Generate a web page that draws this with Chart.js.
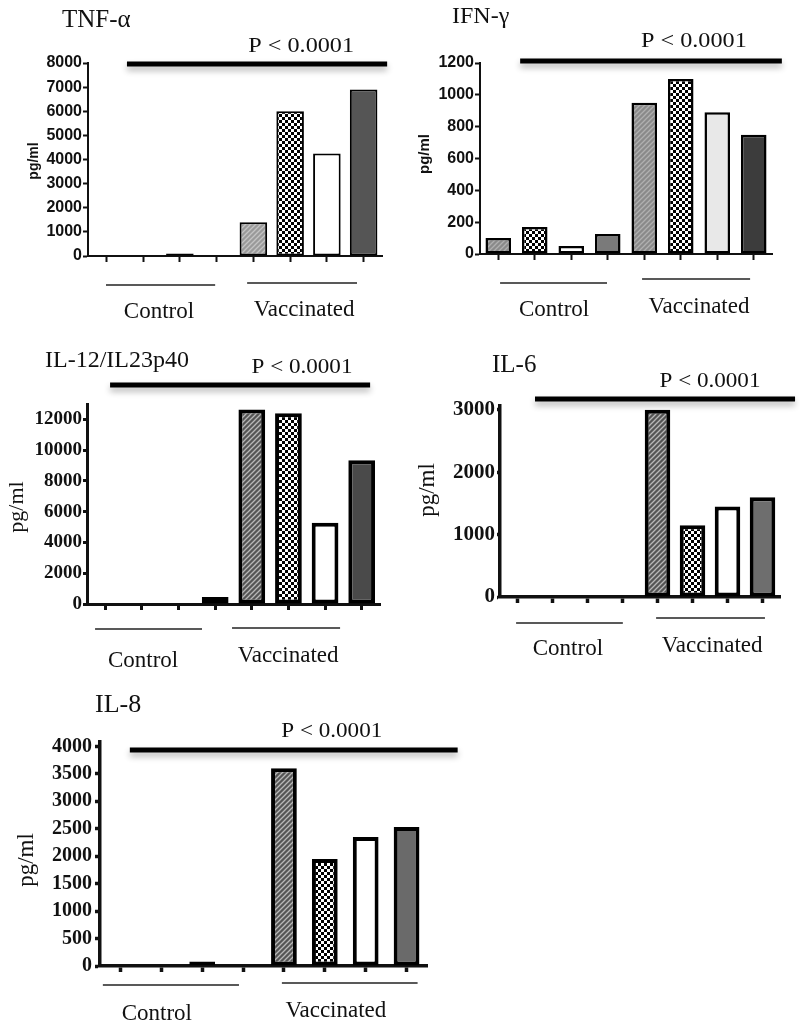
<!DOCTYPE html>
<html>
<head>
<meta charset="utf-8">
<script src="https://cdn.jsdelivr.net/npm/chart.js@4.4.1/dist/chart.umd.min.js"></script>
<style>
  body { margin: 0; background: #fff; }
  #page { position: relative; width: 800px; height: 1023px; overflow: hidden; background: #fff; }
  #page canvas { position: absolute; }
</style>
</head>
<body>
<div id="page">
  <canvas id="tnf" width="400" height="330" style="left:0px;top:0px"></canvas>
  <canvas id="ifn" width="400" height="330" style="left:400px;top:0px"></canvas>
  <canvas id="il12" width="400" height="350" style="left:0px;top:330px"></canvas>
  <canvas id="il6" width="400" height="350" style="left:400px;top:330px"></canvas>
  <canvas id="il8" width="480" height="343" style="left:0px;top:680px"></canvas>
</div>
<script>
// DATOS
const muestras = ["C1", "C2", "C3", "C4", "V1", "V2", "V3", "V4"];
const grupos = ["Control", "Vaccinated"];
const textoP = "P < 0.0001";
const unidad = "pg/ml";

const tnfValores = [0, 0, 100, 0, 1400, 6000, 4250, 6900];
const tnfTicks = [0, 1000, 2000, 3000, 4000, 5000, 6000, 7000, 8000];

const ifnValores = [100, 170, 50, 125, 950, 1100, 890, 750];
const ifnTicks = [0, 200, 400, 600, 800, 1000, 1200];

const il12Valores = [0, 0, 0, 450, 12650, 12400, 5280, 9350];
const il12Ticks = [0, 2000, 4000, 6000, 8000, 10000, 12000];

const il6Valores = [0, 0, 0, 0, 3000, 1150, 1450, 1600];
const il6Ticks = [0, 1000, 2000, 3000];

const il8Valores = [0, 0, 80, 10, 3600, 1950, 2350, 2530];
const il8Ticks = [0, 500, 1000, 1500, 2000, 2500, 3000, 3500, 4000];

const SERIF = "'Liberation Serif', 'Times New Roman', serif";
const SANS = "'Liberation Sans', Arial, sans-serif";

//PATRONES DE RELLENO
function rayado(fondo, linea) {
  const c = document.createElement("canvas");
  c.width = 5; c.height = 5;
  const g = c.getContext("2d");
  g.fillStyle = fondo;
  g.fillRect(0, 0, 5, 5);
  g.strokeStyle = linea;
  g.lineWidth = 1.3;
  g.beginPath();
  g.moveTo(-1, 6); g.lineTo(6, -1);
  g.moveTo(-1, 1); g.lineTo(1, -1);
  g.moveTo(4, 6); g.lineTo(6, 4);
  g.stroke();
  return g.createPattern(c, "repeat");
}

function cuadros() {
  const c = document.createElement("canvas");
  c.width = 6; c.height = 6;
  const g = c.getContext("2d");
  g.fillStyle = "#000";
  g.fillRect(0, 0, 6, 6);
  g.fillStyle = "#fff";
  g.fillRect(0, 0, 3, 3);
  g.fillRect(3, 3, 3, 3);
  return g.createPattern(c, "repeat");
}

//DIBUJA TITULO, LINEA DE SIGNIFICANCIA, GRUPOS Y UNIDAD
const decor = {
  id: "decor",
  afterDraw(chart, args, o) {
    const ctx = chart.ctx;
    const x = chart.scales.x;
    const area = chart.chartArea;
    ctx.save();
    ctx.fillStyle = "#111";

    ctx.font = o.fuenteTitulo;
    ctx.textAlign = "left";
    ctx.textBaseline = "alphabetic";
    ctx.fillText(o.titulo, o.titulo_x, o.titulo_y);

    ctx.save();
    ctx.translate(o.unidad_x, o.unidad_y);
    ctx.rotate(-Math.PI / 2);
    ctx.font = o.fuenteUnidad;
    ctx.textAlign = "center";
    ctx.textBaseline = "middle";
    ctx.fillText(unidad, 0, 0);
    ctx.restore();

    ctx.save();
    ctx.shadowColor = "rgba(0,0,0,0.3)";
    ctx.shadowBlur = 6;
    ctx.shadowOffsetY = 4;
    ctx.strokeStyle = "#000";
    ctx.lineWidth = 5;
    ctx.beginPath();
    ctx.moveTo(x.getPixelForValue(o.sig[0]), area.top + o.sig[2]);
    ctx.lineTo(x.getPixelForValue(o.sig[1]), area.top + o.sig[2]);
    ctx.stroke();
    ctx.restore();

    // texto P algo mas ancho, como en la figura
    ctx.save();
    ctx.font = o.fuenteP;
    ctx.textAlign = "center";
    ctx.translate(x.getPixelForValue(o.p[0]), area.top + o.p[1]);
    ctx.scale(1.1, 1);
    ctx.fillText(textoP, 0, 0);
    ctx.restore();

    ctx.strokeStyle = "#222";
    ctx.lineWidth = 1.5;
    ctx.font = o.fuenteGrupo;
    ctx.textAlign = "center";
    o.llaves.forEach((ll, i) => {
      ctx.beginPath();
      ctx.moveTo(x.getPixelForValue(ll[0]), area.bottom + ll[2]);
      ctx.lineTo(x.getPixelForValue(ll[1]), area.bottom + ll[2]);
      ctx.stroke();
      ctx.fillText(grupos[i], x.getPixelForValue(ll[3]), area.bottom + ll[4]);
    });
    ctx.restore();
  },
};

function panel(id, valores, ticks, cfg) {
  const lienzo = document.getElementById(id);
  const w = lienzo.width, h = lienzo.height;
  return new Chart(lienzo, {
    type: "bar",
    data: {
      labels: muestras,
      datasets: [{
        data: valores,
        backgroundColor: cfg.colores,
        borderColor: "#000",
        borderWidth: cfg.borde,
        borderSkipped: false,
        barPercentage: cfg.ancho,
        categoryPercentage: 1,
      }],
    },
    options: {
      responsive: false,
      animation: false,
      events: [],
      layout: {
        padding: { left: 0, top: cfg.area[1], right: w - cfg.area[2], bottom: 0 },
      },
      scales: {
        x: {
          offset: true,
          grid: {
            offset: false,
            drawOnChartArea: false,
            tickLength: 6,
            tickWidth: cfg.eje,
            tickColor: "#111",
          },
          border: { color: "#111", width: cfg.eje },
          ticks: { display: false },
          afterFit: (s) => { s.height = h - cfg.area[3]; },
        },
        y: {
          min: 0,
          max: cfg.max,
          grid: {
            drawOnChartArea: false,
            tickLength: cfg.marca,
            tickWidth: cfg.eje,
            tickColor: "#111",
          },
          border: { color: "#111", width: cfg.eje },
          ticks: {
            color: "#111",
            font: cfg.fuenteTicks,
            padding: cfg.pad,
            callback: (v) => String(v),
          },
          afterBuildTicks: (s) => { s.ticks = ticks.map((v) => ({ value: v })); },
          afterFit: (s) => { s.width = cfg.area[0]; },
        },
      },
      plugins: {
        legend: { display: false },
        tooltip: { enabled: false },
        decor: cfg.decor,
      },
    },
    plugins: [decor],
  });
}

const rayaClara = rayado("#9a9a9a", "#c4c4c4");
const rayaMedia = rayado("#8a8a8a", "#b0b0b0");
const rayaOscura = rayado("#555", "#b8b8b8");
const ajedrez = cuadros();

panel("tnf", tnfValores, tnfTicks, {
  area: [88, 63, 382, 256],
  max: 8000,
  colores: ["#333", "#333", "#333", "#333", rayaClara, ajedrez, "#fff", "#555"],
  borde: 2, eje: 2, ancho: 0.75, marca: 5, pad: 1,
  fuenteTicks: { family: SANS, size: 16, weight: "bold" },
  decor: {
    titulo: "TNF-\u03b1", titulo_x: 62, titulo_y: 27,
    fuenteTitulo: "25px " + SERIF,
    unidad_x: 34, unidad_y: 161, fuenteUnidad: "bold 14px " + SANS,
    sig: [0.56, 7.64, 1],
    p: [5.3, -11], fuenteP: "22px " + SERIF,
    llaves: [[-0.01, 2.96, 29, 1.43, 62], [3.83, 6.82, 27, 5.38, 60]],
    fuenteGrupo: "23px " + SERIF,
  },
});

panel("ifn", ifnValores, ifnTicks, {
  area: [80, 63, 372, 254],
  max: 1200,
  colores: [rayaMedia, ajedrez, "#fff", "#7a7a7a", rayaMedia, ajedrez, "#e8e8e8", "#3c3c3c"],
  borde: 2.5, eje: 2, ancho: 0.7, marca: 5, pad: 1,
  fuenteTicks: { family: SANS, size: 16, weight: "bold" },
  decor: {
    titulo: "IFN-\u03b3", titulo_x: 52, titulo_y: 23,
    fuenteTitulo: "24px " + SERIF,
    unidad_x: 25, unidad_y: 154, fuenteUnidad: "bold 15px " + SANS,
    sig: [0.6, 7.77, -2],
    p: [5.36, -16], fuenteP: "22px " + SERIF,
    llaves: [[0.05, 2.98, 29, 1.53, 62], [3.94, 6.9, 25, 5.5, 59]],
    fuenteGrupo: "23px " + SERIF,
  },
});

panel("il12", il12Valores, il12Ticks, {
  area: [87, 74, 380, 274],
  max: 13000,
  colores: ["#555", "#555", "#555", "#555", rayaOscura, ajedrez, "#fff", "#4a4a4a"],
  borde: 4, eje: 3, ancho: 0.73, marca: 4, pad: 1,
  fuenteTicks: { family: SERIF, size: 19, weight: "bold" },
  decor: {
    titulo: "IL-12/IL23p40", titulo_x: 45, titulo_y: 37,
    fuenteTitulo: "24px " + SERIF,
    unidad_x: 17, unidad_y: 177, fuenteUnidad: "22px " + SERIF,
    sig: [0.13, 7.23, -19],
    p: [5.37, -31], fuenteP: "21px " + SERIF,
    llaves: [[-0.28, 2.64, 25, 1.03, 63], [3.46, 6.41, 24, 4.99, 58]],
    fuenteGrupo: "23px " + SERIF,
  },
});

panel("il6", il6Valores, il6Ticks, {
  area: [100, 76, 380, 267],
  max: 3060,
  colores: ["#555", "#555", "#555", "#555", rayaOscura, ajedrez, "#fff", "#6e6e6e"],
  borde: 4, eje: 3.5, ancho: 0.73, marca: 3, pad: 2,
  fuenteTicks: { family: SERIF, size: 21, weight: "bold" },
  decor: {
    titulo: "IL-6", titulo_x: 92, titulo_y: 42,
    fuenteTitulo: "25px " + SERIF,
    unidad_x: 28, unidad_y: 160, fuenteUnidad: "23px " + SERIF,
    sig: [0.5, 7.93, -7],
    p: [5.5, -19], fuenteP: "21px " + SERIF,
    llaves: [[-0.04, 3.01, 26, 1.44, 58], [3.96, 7.07, 21, 5.56, 55]],
    fuenteGrupo: "23px " + SERIF,
  },
});

panel("il8", il8Valores, il8Ticks, {
  area: [100, 62, 427, 286],
  max: 4080,
  colores: ["#444", "#444", "#444", "#444", rayaOscura, ajedrez, "#fff", "#6a6a6a"],
  borde: 4, eje: 3.5, ancho: 0.63, marca: 5, pad: 3,
  fuenteTicks: { family: SERIF, size: 20, weight: "bold" },
  decor: {
    titulo: "IL-8", titulo_x: 95, titulo_y: 32,
    fuenteTitulo: "26px " + SERIF,
    unidad_x: 27, unidad_y: 180, fuenteUnidad: "23px " + SERIF,
    sig: [0.23, 8.25, 8],
    p: [5.17, -5], fuenteP: "21px " + SERIF,
    llaves: [[-0.43, 2.9, 19, 0.89, 54], [3.95, 7.27, 17, 5.27, 51]],
    fuenteGrupo: "23px " + SERIF,
  },
});
</script>
</body>
</html>
